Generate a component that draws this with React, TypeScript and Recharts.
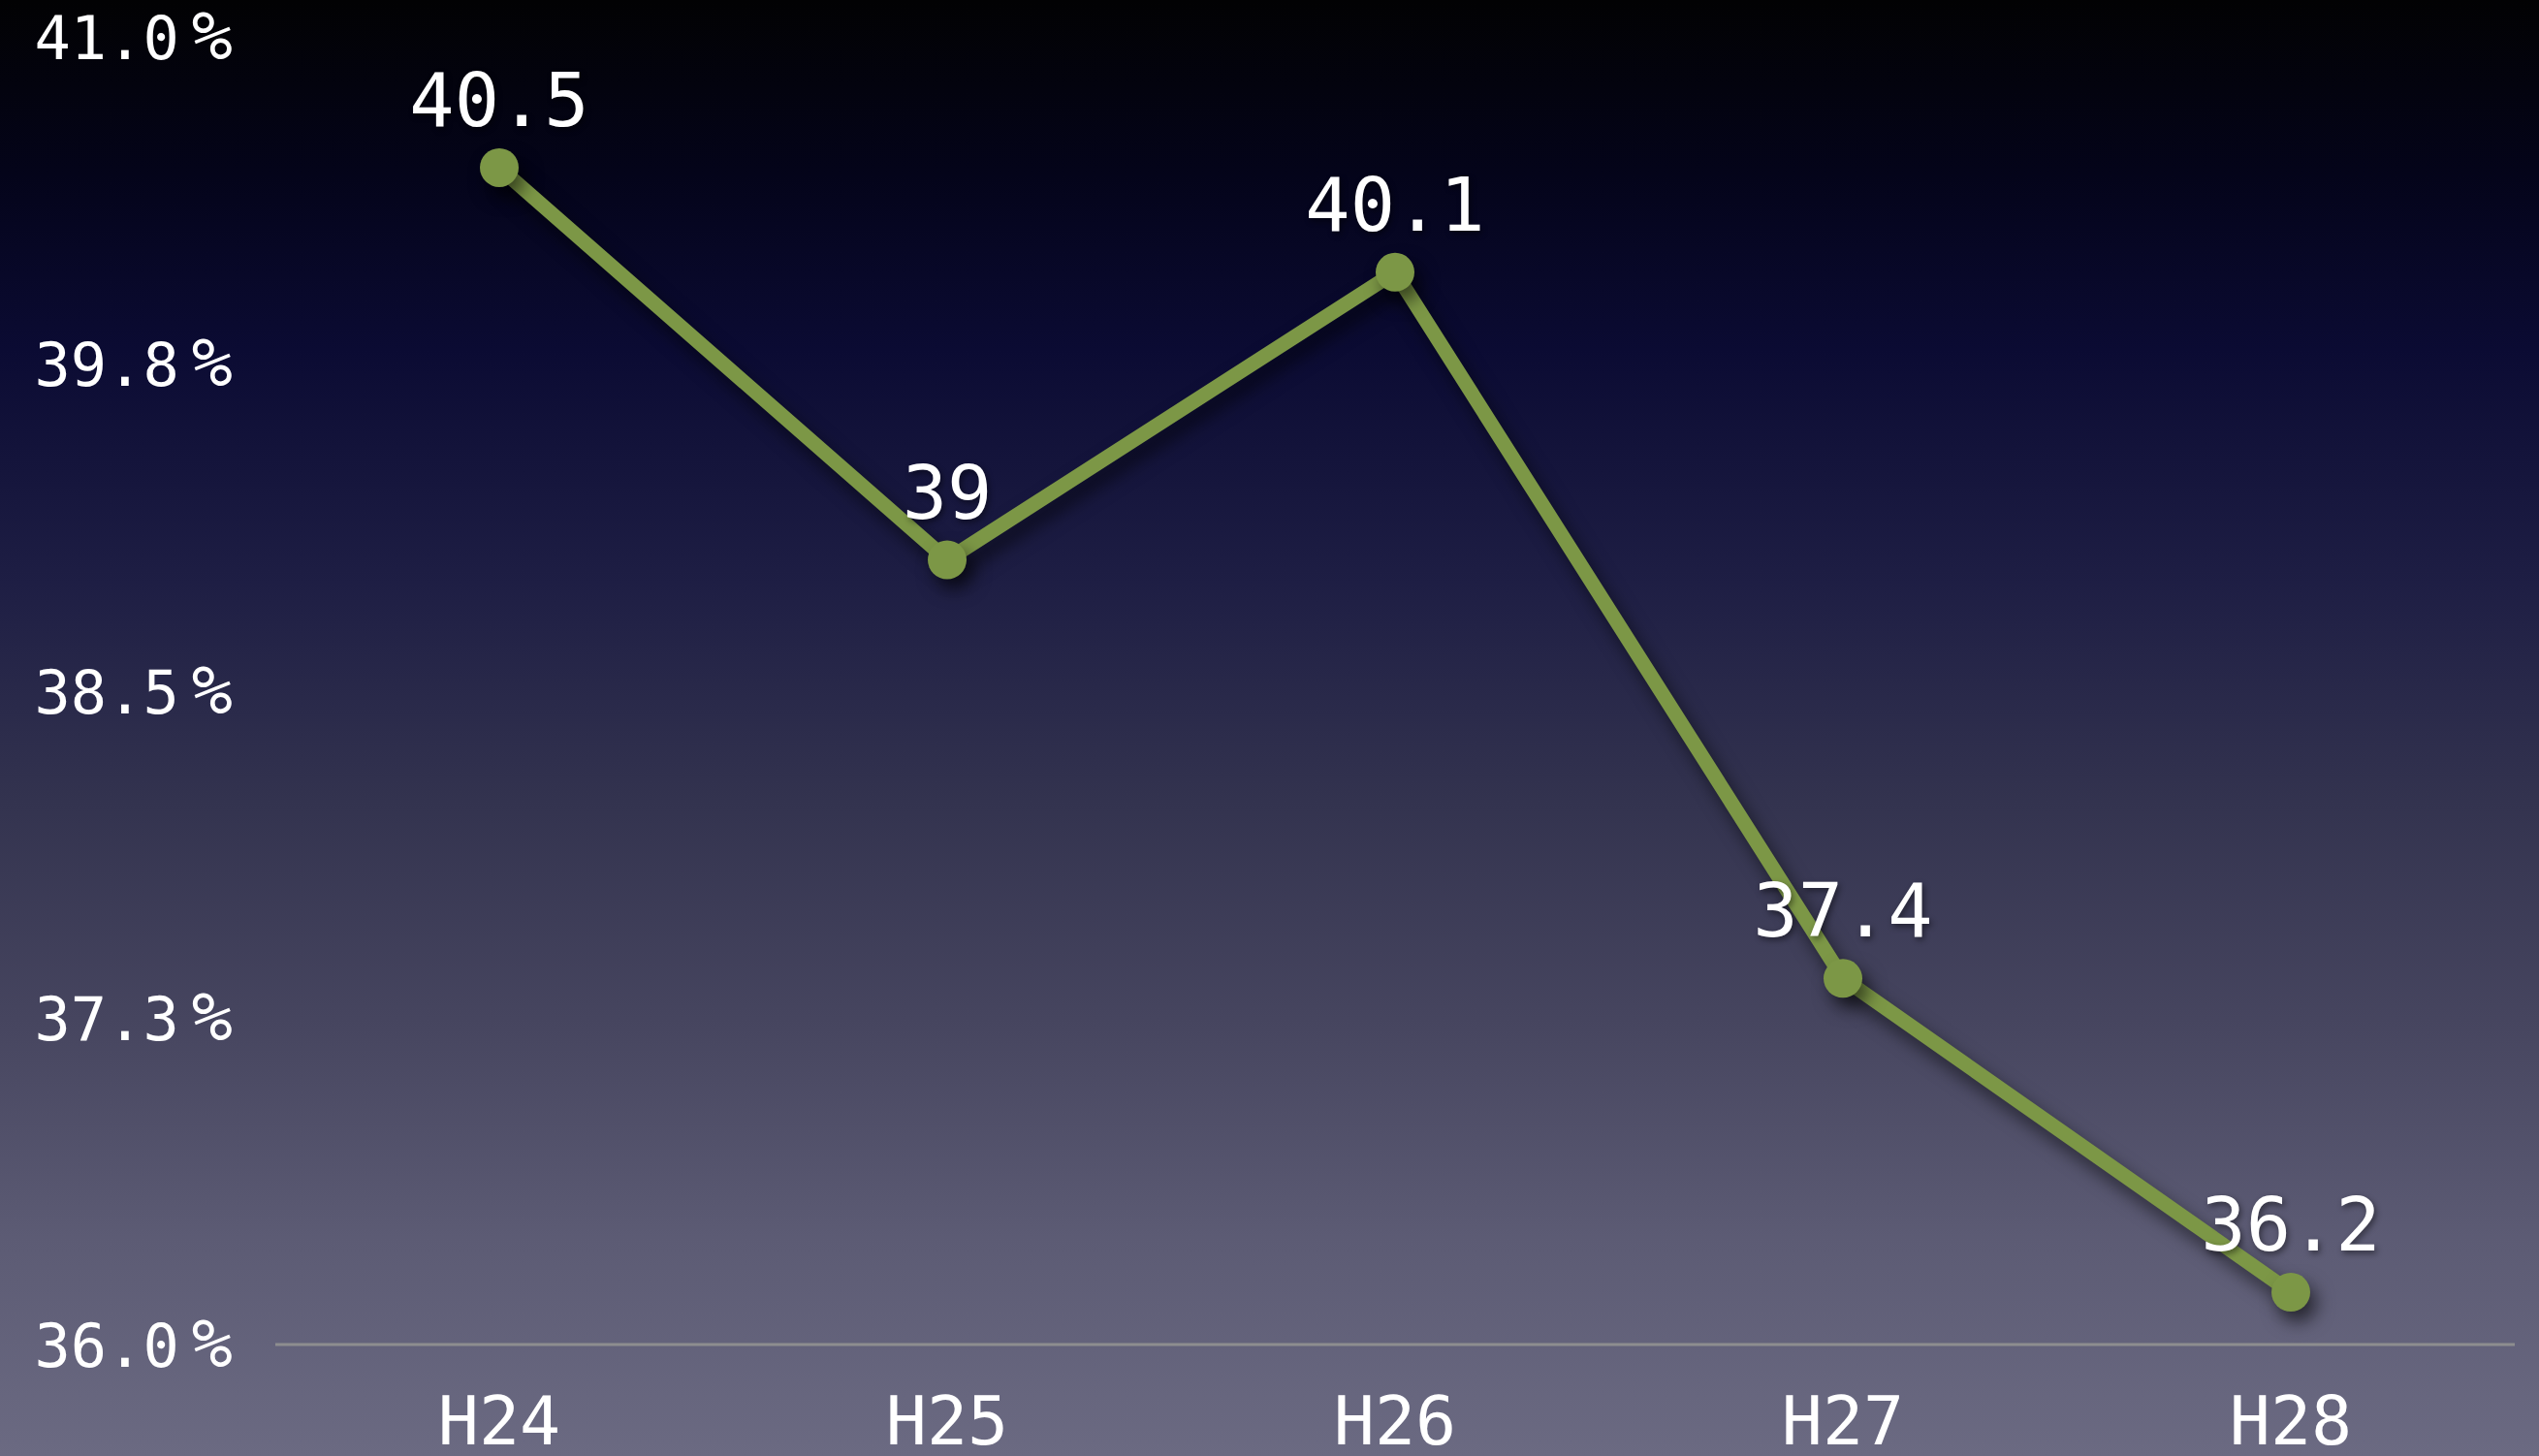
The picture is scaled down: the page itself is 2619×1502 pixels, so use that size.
import { CartesianGrid, LabelList, Line, LineChart, XAxis, YAxis } from "recharts"

const years = ["H24", "H25", "H26", "H27", "H28"]
const rates = [40.5, 39, 40.1, 37.4, 36.2]
const yTicks = [36, 37.25, 38.5, 39.75, 41]

const data = years.map((year, i) => ({ year, rate: rates[i] }))

const FONT = "'DejaVu Sans Mono', monospace"
const GREEN = "#7c9746"

function PercentTick(props: any) {
  const { x, y, payload } = props
  return (
    <text x={x} y={y} dy={23} textAnchor="end" fill="#ffffff" fontSize={62} fontFamily={FONT}>
      {Number(payload.value).toFixed(1)}
      <tspan dx={13} fontSize={70}>%</tspan>
    </text>
  )
}

export default function App() {
  return (
    <div
      style={{
        position: "absolute",
        left: 0,
        top: 0,
        width: 2619,
        height: 1502,
        overflow: "hidden",
        background:
          "linear-gradient(to bottom, #020203 0%, #04041a 12%, #0b0b33 24%, #1e1e44 40%, #33334f 55%, #46455f 70%, #5c5b74 85%, #6b6a82 100%)",
      }}
    >
      <style>{`
        .recharts-line-curve, .recharts-line-dots { filter: drop-shadow(7px 11px 9px rgba(0,0,0,0.55)); }
        .recharts-label-list { filter: drop-shadow(2px 3px 3px rgba(0,0,0,0.45)); }
      `}</style>
      <LineChart width={2619} height={1502} data={data} margin={{ top: 38, right: 25, bottom: 0, left: 0 }}>
        <CartesianGrid horizontal={false} vertical={false} />
        <XAxis
          dataKey="year"
          height={115}
          padding={{ left: 231, right: 231 }}
          axisLine={{ stroke: "#8d8d8f", strokeWidth: 3 }}
          tickLine={false}
          tickSize={0}
          tickMargin={53}
          tick={{ fill: "#ffffff", fontSize: 70, fontFamily: FONT }}
        />
        <YAxis
          width={284}
          domain={[36, 41]}
          ticks={yTicks}
          interval={0}
          axisLine={false}
          tickLine={false}
          tickSize={0}
          tickMargin={44}
          tick={<PercentTick />}
        />
        <Line
          dataKey="rate"
          type="linear"
          stroke={GREEN}
          strokeWidth={15}
          dot={{ r: 20, fill: GREEN, stroke: "none" }}
          activeDot={false}
          isAnimationActive={false}
        >
          <LabelList
            dataKey="rate"
            position="top"
            offset={43}
            fill="#ffffff"
            fontSize={77}
            fontFamily={FONT}
          />
        </Line>
      </LineChart>
    </div>
  )
}
